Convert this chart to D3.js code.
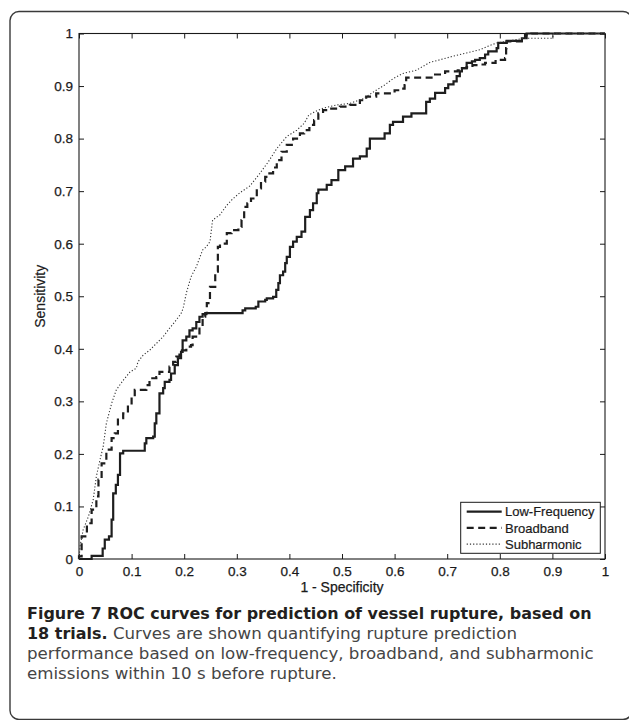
<!DOCTYPE html>
<html>
<head>
<meta charset="utf-8">
<script src="https://cdn.jsdelivr.net/npm/d3@7"></script>
<style>
  html, body { margin: 0; padding: 0; background: #fff; }
  svg { display: block; }
</style>
</head>
<body>
<svg id="chart" width="629" height="720"></svg>
<script>
// ---------------- DATA ----------------
const seriesNames = ["Low-Frequency", "Broadband", "Subharmonic"];
const xTicks = [0, 0.1, 0.2, 0.3, 0.4, 0.5, 0.6, 0.7, 0.8, 0.9, 1];
const yTicks = [0, 0.1, 0.2, 0.3, 0.4, 0.5, 0.6, 0.7, 0.8, 0.9, 1];
const xLabel = "1 - Specificity";
const yLabel = "Sensitivity";

// [1 - specificity, sensitivity]
const lowFrequency = [
  [0,0],[0.024,0],[0.024,0.006],[0.04,0.006],[0.045,0.02],[0.049,0.037],[0.057,0.043],[0.062,0.075],
  [0.065,0.125],[0.07,0.141],[0.074,0.16],[0.078,0.201],[0.084,0.206],[0.119,0.206],[0.125,0.22],
  [0.128,0.23],[0.141,0.233],[0.144,0.258],[0.147,0.277],[0.153,0.315],[0.16,0.325],[0.163,0.337],
  [0.172,0.341],[0.175,0.353],[0.182,0.369],[0.188,0.382],[0.194,0.394],[0.197,0.416],[0.204,0.423],
  [0.21,0.435],[0.216,0.439],[0.223,0.451],[0.229,0.461],[0.235,0.466],[0.242,0.468],[0.306,0.468],
  [0.311,0.473],[0.316,0.477],[0.336,0.48],[0.341,0.49],[0.354,0.493],[0.357,0.496],[0.369,0.499],
  [0.375,0.512],[0.379,0.525],[0.382,0.54],[0.388,0.547],[0.392,0.563],[0.395,0.575],[0.401,0.594],
  [0.407,0.604],[0.414,0.613],[0.423,0.623],[0.43,0.651],[0.439,0.664],[0.445,0.677],[0.452,0.696],
  [0.455,0.703],[0.468,0.703],[0.471,0.712],[0.48,0.721],[0.493,0.74],[0.506,0.747],[0.521,0.762],
  [0.534,0.766],[0.547,0.781],[0.553,0.8],[0.575,0.8],[0.581,0.81],[0.591,0.826],[0.597,0.832],
  [0.61,0.832],[0.616,0.842],[0.629,0.842],[0.632,0.848],[0.657,0.848],[0.66,0.87],[0.667,0.876],
  [0.677,0.887],[0.693,0.887],[0.696,0.896],[0.702,0.903],[0.712,0.909],[0.718,0.919],[0.724,0.928],
  [0.728,0.934],[0.737,0.944],[0.747,0.947],[0.753,0.95],[0.762,0.953],[0.772,0.96],[0.778,0.966],
  [0.794,0.972],[0.797,0.982],[0.813,0.986],[0.835,0.986],[0.842,0.991],[0.851,1],[1,1]
];
const broadband = [
  [0,0],[0,0.005],[0.005,0.043],[0.015,0.068],[0.024,0.094],[0.033,0.119],[0.037,0.151],[0.043,0.182],
  [0.052,0.208],[0.062,0.23],[0.068,0.239],[0.074,0.268],[0.084,0.277],[0.093,0.293],[0.1,0.309],
  [0.106,0.322],[0.122,0.322],[0.128,0.331],[0.134,0.344],[0.147,0.346],[0.153,0.356],[0.163,0.356],
  [0.172,0.366],[0.179,0.375],[0.185,0.385],[0.191,0.397],[0.204,0.404],[0.213,0.407],[0.216,0.423],
  [0.229,0.442],[0.235,0.461],[0.24,0.468],[0.243,0.487],[0.249,0.518],[0.259,0.547],[0.264,0.594],
  [0.268,0.6],[0.281,0.62],[0.29,0.626],[0.303,0.632],[0.309,0.645],[0.314,0.67],[0.32,0.677],
  [0.327,0.686],[0.338,0.705],[0.346,0.718],[0.354,0.727],[0.362,0.734],[0.369,0.745],[0.376,0.759],
  [0.385,0.775],[0.395,0.788],[0.407,0.8],[0.42,0.81],[0.428,0.816],[0.438,0.826],[0.447,0.835],
  [0.455,0.848],[0.464,0.854],[0.477,0.857],[0.496,0.861],[0.515,0.864],[0.534,0.873],[0.546,0.88],
  [0.565,0.886],[0.584,0.886],[0.6,0.892],[0.61,0.895],[0.619,0.902],[0.622,0.916],[0.67,0.916],
  [0.677,0.922],[0.696,0.928],[0.72,0.93],[0.728,0.934],[0.737,0.936],[0.748,0.94],[0.762,0.941],
  [0.772,0.944],[0.792,0.95],[0.81,0.953],[0.812,0.972],[0.813,0.985],[0.842,0.985],[0.848,0.998],
  [0.86,1],[1,1]
];
const subharmonic = [
  [0,0],[0.002,0.024],[0.008,0.056],[0.018,0.081],[0.027,0.113],[0.033,0.157],[0.04,0.189],
  [0.046,0.214],[0.052,0.258],[0.062,0.296],[0.071,0.322],[0.084,0.34],[0.097,0.356],[0.109,0.363],
  [0.112,0.375],[0.122,0.388],[0.134,0.397],[0.147,0.41],[0.16,0.423],[0.172,0.439],[0.182,0.451],
  [0.194,0.467],[0.198,0.477],[0.204,0.506],[0.213,0.537],[0.223,0.556],[0.235,0.588],[0.242,0.594],
  [0.249,0.604],[0.254,0.645],[0.268,0.655],[0.28,0.672],[0.292,0.685],[0.306,0.697],[0.325,0.71],
  [0.344,0.734],[0.36,0.756],[0.376,0.781],[0.395,0.804],[0.414,0.816],[0.428,0.829],[0.437,0.845],
  [0.45,0.852],[0.464,0.858],[0.49,0.864],[0.515,0.867],[0.54,0.876],[0.565,0.892],[0.581,0.902],
  [0.597,0.914],[0.616,0.924],[0.641,0.93],[0.667,0.945],[0.686,0.95],[0.712,0.957],[0.737,0.963],
  [0.762,0.969],[0.778,0.976],[0.794,0.982],[0.819,0.986],[0.845,0.991],[0.9,0.991],[0.902,1],[1,1]
];

const captionBold1 = "Figure 7 ROC curves for prediction of vessel rupture, based on";
const captionBold2 = "18 trials.";
const captionRest2 = " Curves are shown quantifying rupture prediction";
const captionLine3 = "performance based on low-frequency, broadband, and subharmonic";
const captionLine4 = "emissions within 10 s before rupture.";

// ---------------- LAYOUT ----------------
const svg = d3.select("#chart");
const plot = { left: 79, right: 605, top: 33.5, bottom: 559 };
const x = d3.scaleLinear().domain([0, 1]).range([plot.left, plot.right]);
const y = d3.scaleLinear().domain([0, 1]).range([plot.bottom, plot.top]);
const axisFont = "'Liberation Sans', Arial, Helvetica, sans-serif";
const ink = "#1a1a1a";

// outer rounded frame (right edge just beyond the page)
svg.append("rect")
  .attr("x", 10).attr("y", 11.5)
  .attr("width", 622).attr("height", 708)
  .attr("rx", 9).attr("ry", 9)
  .attr("fill", "none").attr("stroke", "#3a3a3a").attr("stroke-width", 1.4);

// axes (ticks inward)
function styleAxis(g) {
  g.select(".domain").remove();
  g.selectAll(".tick line").attr("stroke", ink).attr("stroke-width", 1);
  g.selectAll(".tick text").attr("fill", ink)
    .attr("stroke", ink).attr("stroke-width", 0.25)
    .style("font-family", axisFont).style("font-size", "13.5px");
}
const fmt = d => (d === 0 || d === 1) ? String(d) : d.toFixed(1);

svg.append("g").attr("transform", `translate(0,${plot.bottom})`)
  .call(d3.axisBottom(x).tickValues(xTicks).tickFormat(fmt).tickSizeInner(-5).tickSizeOuter(0).tickPadding(7))
  .call(styleAxis);
svg.append("g").attr("transform", `translate(${plot.left},0)`)
  .call(d3.axisLeft(y).tickValues(yTicks).tickFormat(fmt).tickSizeInner(-5).tickSizeOuter(0).tickPadding(6))
  .call(styleAxis);
svg.append("g").attr("transform", `translate(0,${plot.top})`)
  .call(d3.axisTop(x).tickValues(xTicks).tickFormat("").tickSizeInner(-5).tickSizeOuter(0))
  .call(styleAxis);
svg.append("g").attr("transform", `translate(${plot.right},0)`)
  .call(d3.axisRight(y).tickValues(yTicks).tickFormat("").tickSizeInner(-5).tickSizeOuter(0))
  .call(styleAxis);

// plot box
svg.append("rect")
  .attr("x", x(0)).attr("y", y(1))
  .attr("width", x(1) - x(0)).attr("height", y(0) - y(1))
  .attr("fill", "none").attr("stroke", ink).attr("stroke-width", 1.1);

// axis labels
svg.append("text")
  .attr("x", (x(0) + x(1)) / 2).attr("y", 592)
  .attr("text-anchor", "middle").attr("fill", ink)
  .attr("stroke", ink).attr("stroke-width", 0.25)
  .style("font-family", axisFont).style("font-size", "14px")
  .text(xLabel);
svg.append("text")
  .attr("transform", `translate(44.5,${(y(0) + y(1)) / 2}) rotate(-90)`)
  .attr("text-anchor", "middle").attr("fill", ink)
  .attr("stroke", ink).attr("stroke-width", 0.2)
  .style("font-family", axisFont).style("font-size", "14px")
  .text(yLabel);

// curves
const stepLine = d3.line().x(d => x(d[0])).y(d => y(d[1])).curve(d3.curveStepAfter);
const plainLine = d3.line().x(d => x(d[0])).y(d => y(d[1]));
const styles = [
  { data: lowFrequency, gen: stepLine, width: 2.2, dash: null, color: "#1e1e1e" },
  { data: broadband, gen: stepLine, width: 2.2, dash: "7,4.5", color: "#1e1e1e" },
  { data: subharmonic, gen: plainLine, width: 1.1, dash: "1.2,2", color: "#333" }
];
styles.forEach(s => {
  svg.append("path")
    .attr("d", s.gen(s.data))
    .attr("fill", "none")
    .attr("stroke", s.color)
    .attr("stroke-width", s.width)
    .attr("stroke-dasharray", s.dash)
    .attr("stroke-linejoin", "miter");
});

// legend
const leg = svg.append("g");
leg.append("rect")
  .attr("x", 460.7).attr("y", 502.3).attr("width", 139.6).attr("height", 51)
  .attr("fill", "#fff").attr("stroke", ink).attr("stroke-width", 1);
seriesNames.forEach((name, i) => {
  const yy = 511.7 + i * 16.2;
  const s = styles[i];
  leg.append("line")
    .attr("x1", 466.7).attr("x2", 501.7).attr("y1", yy).attr("y2", yy)
    .attr("stroke", s.color).attr("stroke-width", s.width)
    .attr("stroke-dasharray", s.dash);
  leg.append("text")
    .attr("x", 505).attr("y", yy).attr("dy", "0.36em")
    .attr("fill", ink).attr("stroke", ink).attr("stroke-width", 0.2)
    .style("font-family", axisFont).style("font-size", "13px")
    .text(name);
});

// caption: size fitted to the reference line widths, capped so lines keep a 19.8px pitch
const capFont = "'DejaVu Sans', Roboto, sans-serif";
const cap = svg.append("g").style("font-family", capFont);
function fitSize(sel, target) {
  sel.style("font-size", "16px");
  const w = sel.node().getComputedTextLength();
  const fs = Math.max(13, Math.min(16.8, 16 * target / w));
  sel.style("font-size", fs + "px");
  return fs;
}
const l1 = cap.append("text").attr("x", 27).attr("y", 619)
  .attr("fill", "#231f20").style("font-weight", "bold")
  .text(captionBold1);
const fsB = fitSize(l1, 565);

const l3 = cap.append("text").attr("x", 27).attr("y", 659)
  .attr("fill", "#454545")
  .text(captionLine3);
const fsR = fitSize(l3, 567);

const l2 = cap.append("text").attr("x", 27).attr("y", 639);
l2.append("tspan").attr("fill", "#231f20").style("font-weight", "bold").style("font-size", fsB + "px").text(captionBold2);
l2.append("tspan").attr("fill", "#454545").style("font-size", fsR + "px").text(captionRest2);

cap.append("text").attr("x", 27).attr("y", 678.5)
  .attr("fill", "#454545").style("font-size", fsR + "px")
  .text(captionLine4);
</script>
</body>
</html>
